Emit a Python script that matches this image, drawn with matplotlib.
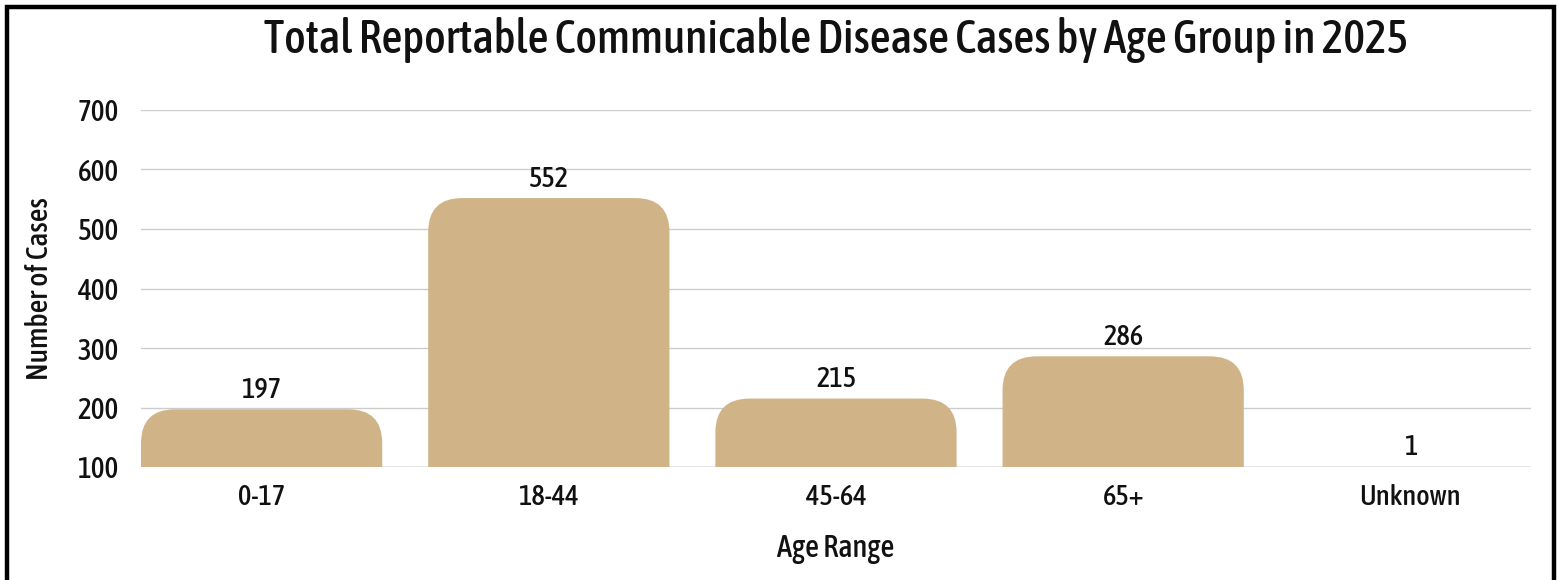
import matplotlib.pyplot as plt
from matplotlib import font_manager as fm
from matplotlib.patches import FancyBboxPatch, Rectangle

# --- Datos ---
age_groups = ["0-17", "18-44", "45-64", "65+", "Unknown"]
cases = [197, 552, 215, 286, 1]
y_ticks = [100, 200, 300, 400, 500, 600, 700]

BAR_COLOR = "#D0B487"
TEXT_COLOR = "#111111"


def buscar_fuente_estrecha():
    # la tipografía más estrecha disponible, peso normal o medio
    candidatas = []
    for f in fm.fontManager.ttflist:
        st = f.stretch
        st_val = fm.stretch_dict.get(st, 500) if isinstance(st, str) else st
        if ("Narrow" in f.name or "Condensed" in f.name) and st_val >= 500:
            st_val = 300
        w = f.weight if isinstance(f.weight, int) else fm.weight_dict.get(f.weight, 400)
        if st_val < 500 and f.style == "normal" and 400 <= w <= 500:
            candidatas.append((st_val, abs(w - 500), f.fname))
    if not candidatas:
        return fm.FontProperties(family="DejaVu Sans")
    candidatas.sort()
    return fm.FontProperties(fname=candidatas[0][2])


fuente = buscar_fuente_estrecha()


def fp(size):
    p = fuente.copy()
    p.set_size(size)
    return p


fig = plt.figure(figsize=(15.59, 5.8), dpi=100)
ax = fig.add_axes([141 / 1559, 1 - 467 / 580, (1531 - 141) / 1559, (467 - 110) / 580])

x = list(range(len(age_groups)))
bars = ax.bar(x, cases, width=0.84, color=BAR_COLOR, zorder=2)

ax.set_xlim(-0.42, len(age_groups) - 1 + 0.42)
ax.set_ylim(y_ticks[0], y_ticks[-1])
ax.set_yticks(y_ticks)
ax.set_xticks(x)
ax.set_xticklabels(age_groups)

# esquinas redondeadas: se cambia cada barra por un FancyBboxPatch
fig.canvas.draw()
px_x = ax.transData.transform((1, 0))[0] - ax.transData.transform((0, 0))[0]
px_y = ax.transData.transform((0, 1))[1] - ax.transData.transform((0, 0))[1]
radio_px = 34
for b in bars:
    b.set_visible(False)
    p = FancyBboxPatch((b.get_x(), b.get_y()), b.get_width(), b.get_height(),
                       boxstyle=f"round,pad=0,rounding_size={radio_px / px_x}",
                       mutation_aspect=px_x / px_y,
                       facecolor=BAR_COLOR, edgecolor="none", zorder=2)
    ax.add_patch(p)

# etiquetas de valor
for xi, v in zip(x, cases):
    ax.annotate(f"{v}", (xi, max(v, y_ticks[0])), xytext=(0, 4), textcoords="offset points",
                ha="center", va="bottom", fontproperties=fp(20.5), color=TEXT_COLOR, zorder=3)

ax.grid(axis="y", color="#cccccc", linewidth=1, zorder=0)
ax.set_axisbelow(True)
for s in ax.spines.values():
    s.set_visible(False)
ax.axhline(y_ticks[0], color="#e4e4e4", linewidth=1.2, zorder=1)
ax.tick_params(axis="both", length=0, colors=TEXT_COLOR)
ax.tick_params(axis="y", pad=16)
ax.tick_params(axis="x", pad=12)
for t in ax.get_xticklabels():
    t.set_fontproperties(fp(20.5))
for t in ax.get_yticklabels():
    t.set_fontproperties(fp(21))

ax.set_xlabel("Age Range", fontproperties=fp(22), color=TEXT_COLOR, labelpad=16)
ax.set_ylabel("Number of Cases", fontproperties=fp(21.5), color=TEXT_COLOR, labelpad=17)
ax.set_title("Total Reportable Communicable Disease Cases by Age Group in 2025",
             fontproperties=fp(33), color=TEXT_COLOR, pad=41)

# marco negro alrededor de la figura
fig.patches.append(Rectangle((7 / 1559, -0.05), (1554 - 7) / 1559, 1.05 - 7 / 580,
                             transform=fig.transFigure, fill=False,
                             edgecolor="black", linewidth=3.2))

fig.savefig("out.png", dpi=100)
